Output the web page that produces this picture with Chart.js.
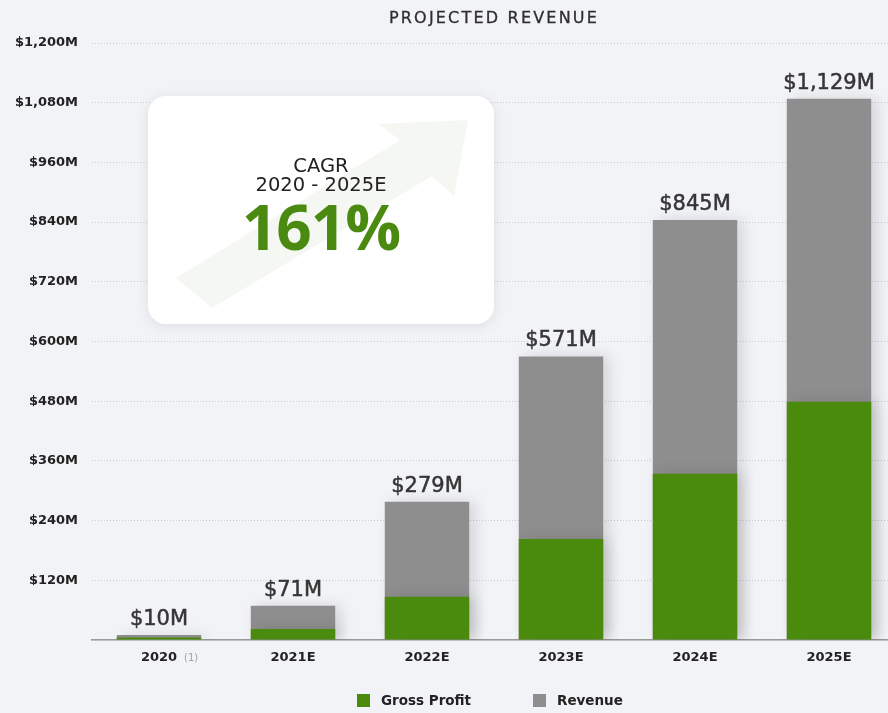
<!DOCTYPE html>
<html>
<head>
<meta charset="utf-8">
<script src="https://cdn.jsdelivr.net/npm/chart.js@4.4.1/dist/chart.umd.min.js"></script>
<style>
  html, body { margin: 0; padding: 0; overflow: hidden; background: #f2f3f6; }
  #wrap { position: relative; width: 896px; height: 713px; }
  #title {
    position: absolute; left: 92px; width: 804px; top: 8px; text-align: center;
    font-family: "DejaVu Sans", sans-serif; font-size: 16px; letter-spacing: 2.2px; color: #2e2e2e;
    -webkit-text-stroke: 0.3px #2e2e2e;
  }
  #legend {
    position: absolute; top: 692px; left: 357px; height: 18px;
    font-family: "DejaVu Sans", sans-serif; font-weight: bold; font-size: 13.5px; color: #222;
  }
  #legend span.item { position: absolute; white-space: nowrap; top: 0; }
  #legend i { display: inline-block; width: 13px; height: 13px; vertical-align: -2px; margin-right: 11px; }
  #cagr {
    position: absolute; left: 148px; top: 96px; width: 346px; height: 228px;
    background: #fff; border-radius: 18px;
    box-shadow: 0 2px 14px rgba(0,0,0,0.09);
    font-family: "DejaVu Sans", sans-serif; text-align: center; overflow: hidden;
  }
  #cagr svg { position: absolute; left: 0; top: 0; }
  #cagr .t { position: absolute; left: 0; right: 0; color: #222; font-size: 19.5px; line-height: 19px; }
  #cagr .big { position: absolute; left: 0; right: 0; top: 98px; color: #4a8a10; font-family: "Open Sans", sans-serif; font-size: 62px; font-weight: 700; line-height: 64px; letter-spacing: -1px; }
</style>
</head>
<body>
<div id="wrap">
  <canvas id="myChart" width="896" height="713"></canvas>
  <div id="title">PROJECTED REVENUE</div>
  <div id="legend"></div>
  <div id="cagr">
    <svg width="346" height="228">
      <polygon points="28,182 252,44 230,28 320,24 306,100 284,80 64,212" fill="#f5f8f2"/>
    </svg>
    <div class="t" style="top:60px">CAGR</div>
    <div class="t" style="top:79px">2020 - 2025E</div>
    <div class="big">161%</div>
  </div>
</div>
<script>
// chart data
const years = ['2020', '2021E', '2022E', '2023E', '2024E', '2025E'];
const revenue = [10, 69, 278, 570, 844, 1088];
const grossProfit = [5, 22, 87, 203, 334, 479];
const revenueLabels = ['$10M', '$71M', '$279M', '$571M', '$845M', '$1,129M'];

const green = '#4a8a0c';
const grey = '#8e8e8e';

// soft shadow behind the bars
const barShadow = {
    id: 'barShadow',
    beforeDatasetDraw(chart) {
        const ctx = chart.ctx;
        ctx.save();
        ctx.shadowColor = 'rgba(0,0,0,0.13)';
        ctx.shadowBlur = 14;
        ctx.shadowOffsetX = 6;
        ctx.shadowOffsetY = 0;
    },
    afterDatasetDraw(chart) {
        chart.ctx.restore();
    }
};

// value labels above bars + footnote on 2020
const topLabels = {
    id: 'topLabels',
    afterDatasetsDraw(chart) {
        const ctx = chart.ctx;
        const meta = chart.getDatasetMeta(1);
        ctx.save();
        ctx.fillStyle = '#363636';
        ctx.strokeStyle = '#363636';
        ctx.lineWidth = 0.5;
        ctx.font = '21px "DejaVu Sans", sans-serif';
        ctx.textAlign = 'center';
        ctx.textBaseline = 'bottom';
        meta.data.forEach((bar, i) => {
            ctx.fillText(revenueLabels[i], bar.x, bar.y - 5);
            ctx.strokeText(revenueLabels[i], bar.x, bar.y - 5);
        });
        const x0 = chart.scales.x.getPixelForValue(0);
        ctx.font = '10px "DejaVu Sans", sans-serif';
        ctx.fillStyle = '#a0a0a0';
        ctx.textAlign = 'left';
        ctx.textBaseline = 'middle';
        ctx.fillText('(1)', x0 + 25, chart.chartArea.bottom + 18);
        ctx.restore();
    }
};

const ctx = document.getElementById('myChart').getContext('2d');

const chart = new Chart(ctx, {
    type: 'bar',
    data: {
        labels: years,
        datasets: [{
            label: 'Gross Profit',
            data: grossProfit,
            backgroundColor: green,
            barPercentage: 0.63,
            categoryPercentage: 1.0
        }, {
            label: 'Revenue',
            data: revenue,
            backgroundColor: grey,
            barPercentage: 0.63,
            categoryPercentage: 1.0
        }]
    },
    options: {
        responsive: false,
        animation: false,
        layout: { padding: { left: 0, right: 0, top: 43, bottom: 0 } },
        plugins: {
            legend: { display: false },
            tooltip: { enabled: false }
        },
        scales: {
            x: {
                stacked: true,
                afterFit(scale) { scale.height = 73; },
                grid: { display: false, drawTicks: false },
                border: { color: '#9a9a9a', width: 1.5 },
                ticks: {
                    color: '#222',
                    font: { family: 'DejaVu Sans', size: 13, weight: 'bold' },
                    padding: 10
                }
            },
            y: {
                stacked: false,
                min: 0,
                max: 1200,
                afterFit(scale) { scale.width = 92; },
                grid: {
                    color: '#c9cdd3',
                    drawTicks: false
                },
                border: { display: false, dash: [1, 2] },
                ticks: {
                    stepSize: 120,
                    padding: 14,
                    color: '#222',
                    font: { family: 'DejaVu Sans', size: 13, weight: 'bold' },
                    callback: v => v === 0 ? '' : '$' + v.toLocaleString('en-US') + 'M'
                }
            }
        }
    },
    plugins: [barShadow, topLabels]
});

// html legend built from the datasets
const legendEl = document.getElementById('legend');
const legendX = [0, 176];
chart.data.datasets.forEach((ds, i) => {
    const item = document.createElement('span');
    item.className = 'item';
    item.style.left = legendX[i] + 'px';
    item.innerHTML = '<i style="background:' + ds.backgroundColor + '"></i>' + ds.label;
    legendEl.appendChild(item);
});
</script>
</body>
</html>
